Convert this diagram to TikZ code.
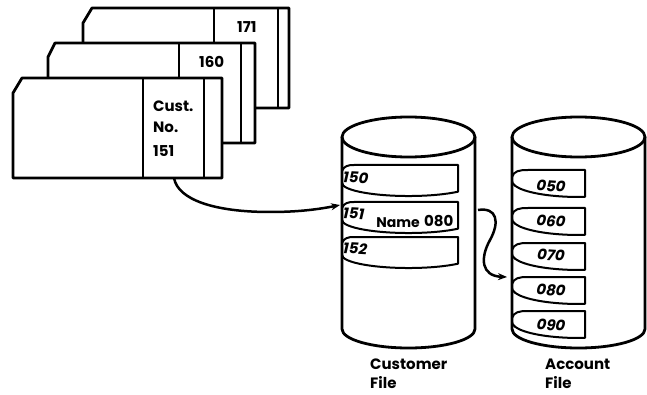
\documentclass[tikz,border=0pt]{standalone}
\usepackage{fontspec}
\setmainfont{Poppins}
\usetikzlibrary{arrows.meta}
\tikzset{
  outline/.style={line width=2.8pt, line join=round},
  thin/.style={line width=1.7pt},
  rec/.style={line width=2pt, line join=round},
  lab/.style={inner sep=0pt, font=\fontsize{15}{15}\selectfont\bfseries},
  num/.style={inner sep=0pt, font=\fontsize{15}{15}\selectfont\bfseries\itshape},
  conn/.style={line width=2.5pt, -{Stealth[length=9pt,width=7pt]}}
}
\begin{document}
\begin{tikzpicture}[x=1pt,y=-1pt]
\useasboundingbox (0,0) rectangle (647,395);
% ---- cards ----
\filldraw[fill=white, outline] (83,23) -- (92,8) -- (289,8) -- (289,108) -- (83,108) -- cycle;
\draw[thin] (214,8) -- (214,108);
\draw[thin] (278,8) -- (278,108);
\filldraw[fill=white, outline] (48,57) -- (55,43) -- (255,43) -- (255,143) -- (48,143) -- cycle;
\draw[thin] (179,43) -- (179,143);
\draw[thin] (241,43) -- (241,143);
\filldraw[fill=white, outline] (13,93) -- (22,78) -- (222,78) -- (222,178) -- (13,178) -- cycle;
\draw[thin] (143,78) -- (143,178);
\draw[thin] (204,78) -- (204,178);
\node[lab, anchor=base west] (t171) at (237,33) {171};
\node[lab, anchor=base west] (t160) at (199,68) {160};
\node[lab, anchor=base west] (tcust) at (153,112) {Cust.};
\node[lab, anchor=base west] (tno) at (153,133) {No.};
\node[lab, anchor=base west] (t151) at (153,157) {151};
% ---- customer file ----
\draw[outline] (342,137) -- (342,329) arc[start angle=180, end angle=360, x radius=66.5pt, y radius=19pt] -- (475,137);
\draw[outline] (408.5,137) ellipse[x radius=66.5pt, y radius=20pt];
\foreach \t in {165,202,237}{
  \draw[rec] (342,\t+6) .. controls (344,\t+1) and (348,\t) .. (354,\t) -- (458,\t) -- (458,\t+26.7)
     arc[start angle=318.1, end angle=180, x radius=66.5pt, y radius=13pt];
}
\node[num, anchor=west, rotate=-3] (r150) at (343,177) {150};
\node[num, anchor=west, rotate=-3] (r151) at (343,213) {151};
\node[lab, anchor=base, font=\fontsize{14}{14}\selectfont\bfseries] (rname) at (398,227) {Name};
\node[lab, anchor=base west] (r080) at (424,226) {080};
\node[num, anchor=west, rotate=-3] (r152) at (343,248) {152};
\node[lab, anchor=base west] (lcust) at (370,369) {Customer};
\node[lab, anchor=base west] (lfile1) at (370,388) {File};
% ---- account file ----
\draw[outline] (512,137) -- (512,329) arc[start angle=180, end angle=360, x radius=66.5pt, y radius=19pt] -- (645,137);
\draw[outline] (578.5,137) ellipse[x radius=66.5pt, y radius=20pt];
\foreach \t in {170,208,243,277,311}{
  \draw[rec] (512,\t+7) .. controls (514,\t+1) and (519,\t) .. (528,\t) -- (585,\t) -- (585,\t+26.9)
     arc[start angle=275.6, end angle=180, x radius=66.5pt, y radius=16pt];
}
\node[num, rotate=-4] (a050) at (551,186) {050};
\node[num, rotate=-4] (a060) at (551,221) {060};
\node[num, rotate=-4] (a070) at (551,255) {070};
\node[num, rotate=-4] (a080) at (551,290) {080};
\node[num, rotate=-4] (a090) at (551,325) {090};
\node[lab, anchor=base west] (lacc) at (545,369) {Account};
\node[lab, anchor=base west] (lfile2) at (545,388) {File};
% ---- connectors ----
\coordinate (cardout) at (174,178);
\coordinate (custin) at (340,205);
\coordinate (custout) at (478,210);
\coordinate (accin) at (507,277);
\draw[conn] (cardout) .. controls (178,200) and (215,212) .. (270,212)
   .. controls (300,212) and (320,209) .. (custin);
\draw[conn] (custout) .. controls (497,207) and (500,222) .. (490,240)
   .. controls (480,258) and (481,276) .. (accin);
\end{tikzpicture}
\end{document}
